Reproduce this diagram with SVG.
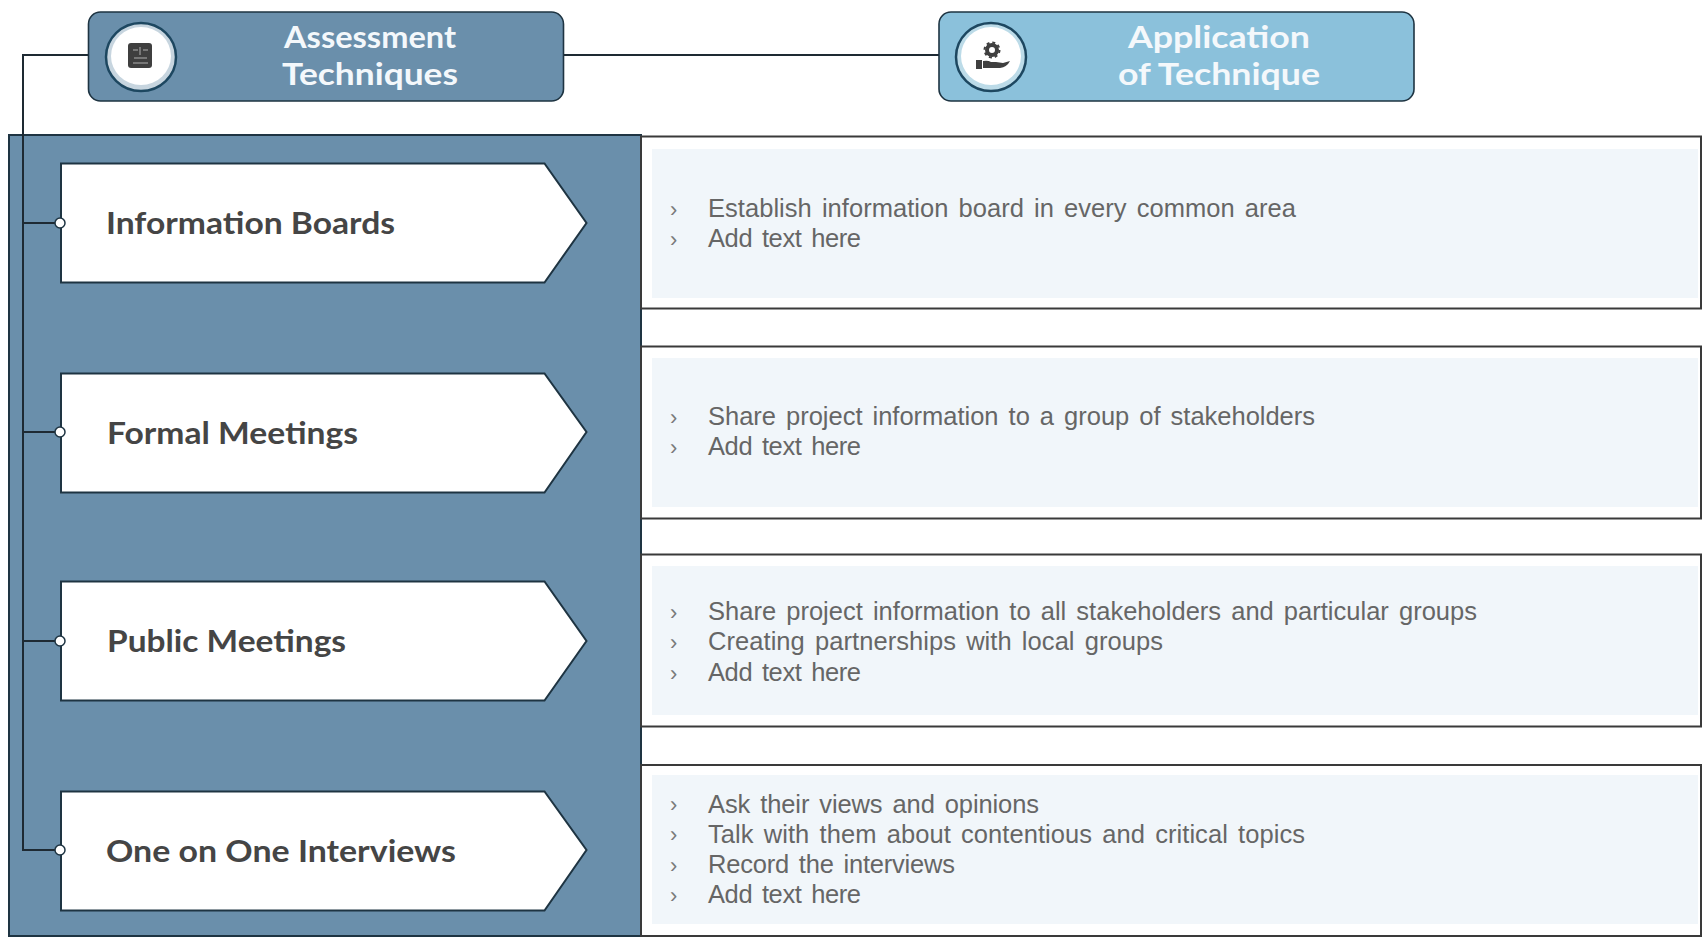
<svg xmlns="http://www.w3.org/2000/svg" width="1704" height="937" viewBox="0 0 1704 937">
<style>
.hd{stroke:#1e3442;stroke-width:1.6}
.ring{fill:#fff;stroke:#1d4760;stroke-width:2.5}
.ht{font:700 31px "Lato","Liberation Sans",sans-serif;fill:#f4f8fb;text-anchor:middle}
.ar{fill:#fff;stroke:#1e3442;stroke-width:2}
.at{font:700 31px "Lato","Liberation Sans",sans-serif;fill:#454545}
.bx{fill:#fff;stroke:#3a3a3a;stroke-width:2}
.in{fill:#f1f6fa}
.tx{font:25.5px "Liberation Sans",Arial,sans-serif;fill:#666;word-spacing:3px}
.bu{font:22px "Liberation Sans",Arial,sans-serif;fill:#7a7a7a}
.ln{fill:none;stroke:#1e2a33;stroke-width:2}
.dot{fill:#fff;stroke:#1e3442;stroke-width:1.5}
</style>
<rect width="1704" height="937" fill="#fff"/>
<g id="panel"><rect x="9" y="135" width="632" height="801" fill="#6a8fab" stroke="#1e3442" stroke-width="2"/></g>
<g id="connectors">
<path class="ln" d="M564 55H939"/>
<path class="ln" d="M88 55H23V850H60M23 223H60M23 432H60M23 641H60"/>
</g>
<g id="header-assessment">
<rect class="hd" x="88.500" y="12" width="475" height="89" rx="12" fill="#6a8fab"/>
<ellipse class="ring" cx="141" cy="57" rx="35" ry="34" style="fill:#c7d5df"/>
<ellipse cx="141" cy="56" rx="30" ry="29" fill="#fff"/>
<rect x="128" y="43" width="24" height="25" rx="3" fill="#3f3f3f"/>
<path d="M133 50h5M143 50h5M140 47v8M134 58h13M133 63h15" stroke="#8a8a8a" stroke-width="1.500" fill="none"/>
<text class="ht" x="370" y="48" textLength="172" lengthAdjust="spacingAndGlyphs">Assessment</text>
<text class="ht" x="370" y="85" textLength="176" lengthAdjust="spacingAndGlyphs">Techniques</text>
</g>
<g id="header-application">
<rect class="hd" x="939" y="12" width="475" height="89" rx="12" fill="#8bc1db"/>
<ellipse class="ring" cx="991" cy="57" rx="35" ry="34" style="fill:#bcdbe8"/>
<ellipse cx="991" cy="56" rx="30" ry="29" fill="#fff"/>
<circle cx="992" cy="50" r="5" fill="none" stroke="#3f3f3f" stroke-width="4"/>
<circle cx="992" cy="50" r="7.500" fill="none" stroke="#3f3f3f" stroke-width="2" stroke-dasharray="3 2.900"/>
<path d="M976 60h6v9h-6zM983 61q5-1 8 1h5l7 1 7-2q-3 6-10 7h-17z" fill="#3f3f3f"/>
<text class="ht" x="1219" y="48" textLength="182" lengthAdjust="spacingAndGlyphs">Application</text>
<text class="ht" x="1219" y="85" textLength="202" lengthAdjust="spacingAndGlyphs">of Technique</text>
</g>
<g id="row-1">
<path class="ar" d="M61 163.500H544.500L586.500 223 544.500 282.500H61Z"/>
<circle class="dot" cx="60" cy="223" r="5"/>
<text class="at" x="106" y="234" textLength="289" lengthAdjust="spacingAndGlyphs">Information Boards</text>
<rect class="bx" x="641" y="136.500" width="1060" height="172"/>
<rect class="in" x="652" y="149" width="1046" height="149"/>
<text class="bu" x="670" y="217">›</text><text class="tx" x="708" y="217" textLength="588" lengthAdjust="spacing">Establish information board in every common area</text>
<text class="bu" x="670" y="247">›</text><text class="tx" x="708" y="247" textLength="153" lengthAdjust="spacing">Add text here</text>
</g>
<g id="row-2">
<path class="ar" d="M61 373.500H544.500L586.500 432 544.500 492.500H61Z"/>
<circle class="dot" cx="60" cy="432" r="5"/>
<text class="at" x="107" y="444" textLength="251" lengthAdjust="spacingAndGlyphs">Formal Meetings</text>
<rect class="bx" x="641" y="346.500" width="1060" height="172"/>
<rect class="in" x="652" y="358" width="1046" height="149"/>
<text class="bu" x="670" y="425">›</text><text class="tx" x="708" y="425" textLength="607" lengthAdjust="spacing">Share project information to a group of stakeholders</text>
<text class="bu" x="670" y="455">›</text><text class="tx" x="708" y="455" textLength="153" lengthAdjust="spacing">Add text here</text>
</g>
<g id="row-3">
<path class="ar" d="M61 581.500H544.500L586.500 641 544.500 700.500H61Z"/>
<circle class="dot" cx="60" cy="641" r="5"/>
<text class="at" x="107" y="652" textLength="239" lengthAdjust="spacingAndGlyphs">Public Meetings</text>
<rect class="bx" x="641" y="554.500" width="1060" height="172"/>
<rect class="in" x="652" y="566" width="1046" height="149"/>
<text class="bu" x="670" y="620">›</text><text class="tx" x="708" y="620" textLength="769" lengthAdjust="spacing">Share project information to all stakeholders and particular groups</text>
<text class="bu" x="670" y="650">›</text><text class="tx" x="708" y="650" textLength="455" lengthAdjust="spacing">Creating partnerships with local groups</text>
<text class="bu" x="670" y="681">›</text><text class="tx" x="708" y="681" textLength="153" lengthAdjust="spacing">Add text here</text>
</g>
<g id="row-4">
<path class="ar" d="M61 791.500H544.500L586.500 850 544.500 910.500H61Z"/>
<circle class="dot" cx="60" cy="850" r="5"/>
<text class="at" x="106" y="862" textLength="350" lengthAdjust="spacingAndGlyphs">One on One Interviews</text>
<rect class="bx" x="641" y="765" width="1060" height="171"/>
<rect class="in" x="652" y="775" width="1046" height="149"/>
<text class="bu" x="670" y="812">›</text><text class="tx" x="708" y="813" textLength="331" lengthAdjust="spacing">Ask their views and opinions</text>
<text class="bu" x="670" y="842">›</text><text class="tx" x="708" y="843" textLength="597" lengthAdjust="spacing">Talk with them about contentious and critical topics</text>
<text class="bu" x="670" y="873">›</text><text class="tx" x="708" y="873" textLength="247" lengthAdjust="spacing">Record the interviews</text>
<text class="bu" x="670" y="903">›</text><text class="tx" x="708" y="903" textLength="153" lengthAdjust="spacing">Add text here</text>
</g>
</svg>
